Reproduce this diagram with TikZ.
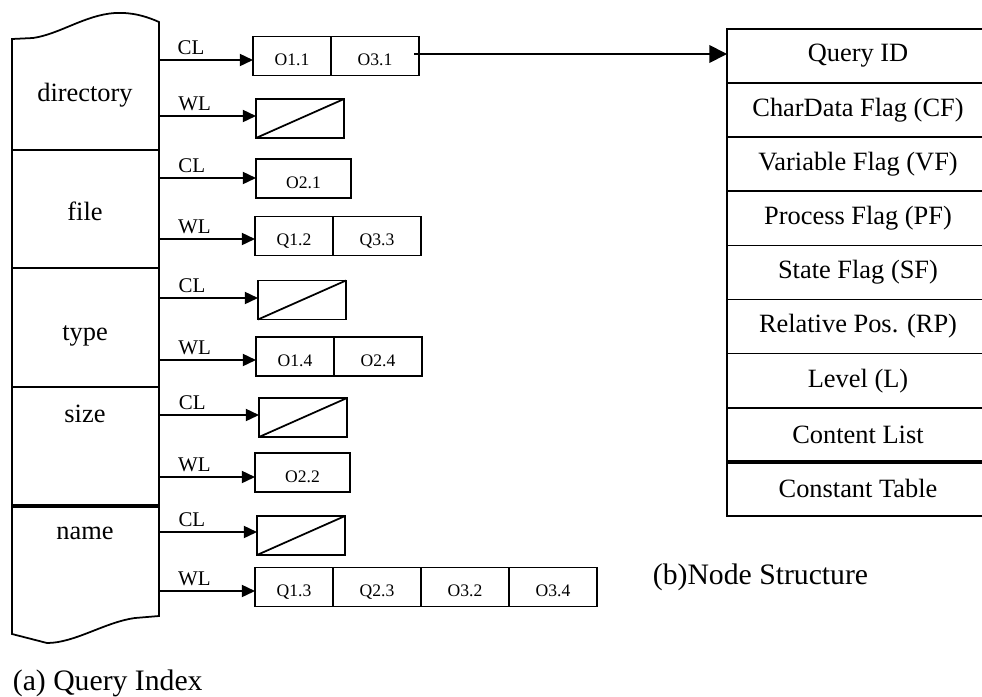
\documentclass[tikz,border=0pt]{standalone}
\usepackage{fontspec}
\setmainfont{Liberation Serif}
\usetikzlibrary{arrows.meta,positioning}
\newcommand{\pxl}{0.4545pt}

\begin{document}
\begin{tikzpicture}[x=\pxl,y=-\pxl,thick,
  keyname/.style={font=\fontsize{12}{14}\selectfont},
  lbl/.style={font=\fontsize{9.5}{11}\selectfont,inner sep=0pt,anchor=south west,pos=0.19,yshift=2pt},
  arr/.style={-{Triangle[length=6pt,width=5.5pt]}},
  cellbox/.style={draw,inner sep=0pt,outer sep=0pt,minimum height=39*\pxl,font=\fontsize{8}{10}\selectfont,text height=8.9pt,text depth=0pt},
  cella/.style={cellbox,minimum width=78*\pxl},
  cellb/.style={cellbox,minimum width=88*\pxl},
  cellc/.style={cellbox,minimum width=95*\pxl},
  nul/.style={cellbox,minimum width=88*\pxl},
  fieldrow/.style={draw,inner sep=0pt,outer sep=0pt,minimum width=262*\pxl,minimum height=54.1*\pxl,font=\fontsize{12}{14}\selectfont},
  captxt/.style={font=\fontsize{13.5}{16}\selectfont,inner sep=0pt,anchor=base west}]
\useasboundingbox (0,0) rectangle (982,696);

% query index block
\draw (159,22) .. controls (150,18) and (135,12) .. (115,13)
  .. controls (85,15) and (60,34) .. (33,38) -- (12,39) -- (12,634)
  -- (47,643) .. controls (75,643) and (105,622) .. (135,618) -- (159,616) -- cycle;
\draw (12,150) -- (159,150);
\draw (12,268) -- (159,268);
\draw (12,387) -- (159,387);
\draw[line width=1.4pt] (12,506) -- (159,506);

\node[keyname] (kdir) at (85,95) {directory};
\node[keyname] (kfile) at (85,211) {file};
\node[keyname] (ktype) at (85,336) {type};
\node[keyname] (ksize) at (85,414) {size};
\node[keyname] (kname) at (85,533) {name};

\coordinate (s1) at (159,60);
\coordinate (s2) at (159,116);
\coordinate (s3) at (159,178);
\coordinate (s4) at (159,239);
\coordinate (s5) at (159,298);
\coordinate (s6) at (159,360);
\coordinate (s7) at (159,415);
\coordinate (s8) at (159,477);
\coordinate (s9) at (159,532);
\coordinate (s10) at (159,591);

% lists
\node[cella,anchor=west] (c1a) at (253,56) {O1.1};
\node[cellb,right=0pt of c1a] (c1b) {O3.1};
\node[nul,anchor=west] (c2) at (256,118.5) {};
\node[cellc,anchor=west] (c3) at (256,178.5) {O2.1};
\node[cella,anchor=west] (c4a) at (255,236) {Q1.2};
\node[cellb,right=0pt of c4a] (c4b) {Q3.3};
\node[nul,anchor=west] (c5) at (258,300) {};
\node[cella,anchor=west] (c6a) at (256,356.5) {O1.4};
\node[cellb,right=0pt of c6a] (c6b) {O2.4};
\node[nul,anchor=west] (c7) at (259,417.5) {};
\node[cellc,anchor=west] (c8) at (255,472.5) {O2.2};
\node[nul,anchor=west] (c9) at (257,535.5) {};
\node[cella,anchor=west] (c10a) at (255,587) {Q1.3};
\node[cellb,right=0pt of c10a] (c10b) {Q2.3};
\node[cellb,right=0pt of c10b] (c10c) {O3.2};
\node[cellb,right=0pt of c10c] (c10d) {O3.4};

\draw (c2.south west) -- (c2.north east);
\draw (c5.south west) -- (c5.north east);
\draw (c7.south west) -- (c7.north east);
\draw (c9.south west) -- (c9.north east);

\draw[arr] (s1) to node[lbl] {CL} (s1 -| c1a.west);
\draw[arr] (s2) to node[lbl] {WL} (s2 -| c2.west);
\draw[arr] (s3) to node[lbl] {CL} (s3 -| c3.west);
\draw[arr] (s4) to node[lbl] {WL} (s4 -| c4a.west);
\draw[arr] (s5) to node[lbl] {CL} (s5 -| c5.west);
\draw[arr] (s6) to node[lbl] {WL} (s6 -| c6a.west);
\draw[arr] (s7) to node[lbl] {CL} (s7 -| c7.west);
\draw[arr] (s8) to node[lbl] {WL} (s8 -| c8.west);
\draw[arr] (s9) to node[lbl] {CL} (s9 -| c9.west);
\draw[arr] (s10) to node[lbl] {WL} (s10 -| c10a.west);

% node structure
\node[fieldrow,anchor=north west] (r1) at (727,29) {Query ID};
\node[fieldrow,below=0pt of r1] (r2) {CharData Flag (CF)};
\node[fieldrow,below=0pt of r2] (r3) {Variable Flag (VF)};
\node[fieldrow,below=0pt of r3] (r4) {Process Flag (PF)};
\node[fieldrow,below=0pt of r4] (r5) {State Flag (SF)};
\node[fieldrow,below=0pt of r5] (r6) {Relative Pos. (RP)};
\node[fieldrow,below=0pt of r6] (r7) {Level (L)};
\node[fieldrow,below=0pt of r7] (r8) {Content List};
\node[fieldrow,below=0pt of r8] (r9) {Constant Table};
\draw[line width=1.6pt] (r8.south west) -- (r8.south east);

\coordinate (t0) at (414,54);
\draw[-{Triangle[length=8pt,width=8pt]}] (t0) to (t0 -| r1.west);

\node[captxt] (capa) at (12,690) {(a) Query Index};
\node[captxt] (capb) at (652,584) {(b)Node Structure};
\end{tikzpicture}
\end{document}
